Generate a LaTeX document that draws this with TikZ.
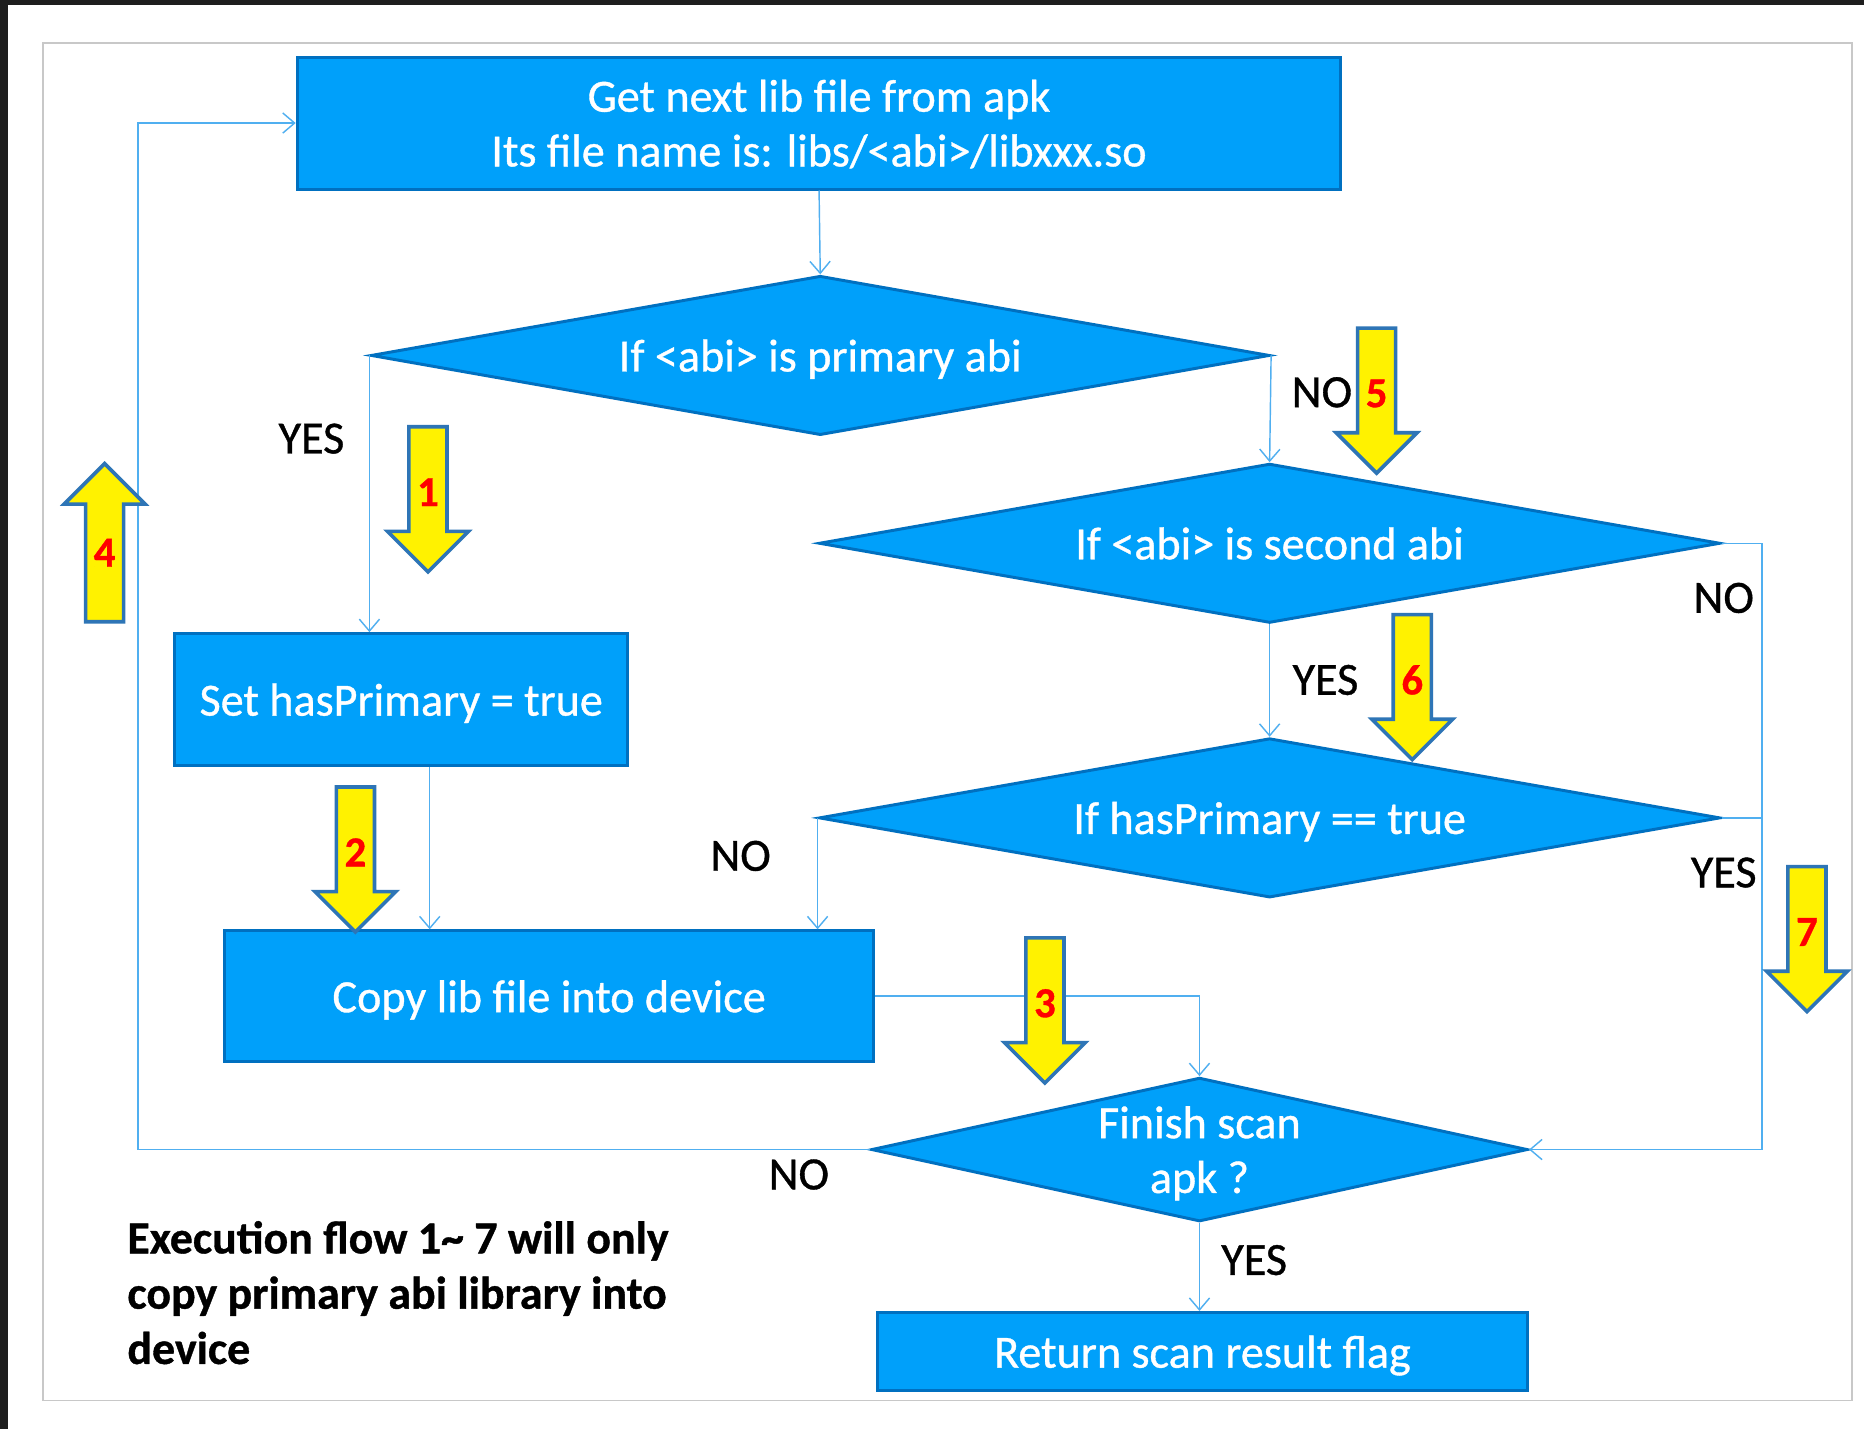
\documentclass[tikz,border=0pt]{standalone}
\usepackage{fontspec}
\setmainfont{Carlito}[FakeBold=0.8]
\usetikzlibrary{arrows.meta,shapes.geometric}

\definecolor{boxblue}{RGB}{0,160,250}
\definecolor{boxedge}{RGB}{0,112,192}
\definecolor{linkblue}{RGB}{80,175,240}
\definecolor{arrowedge}{RGB}{46,117,182}
\definecolor{darkedge}{RGB}{30,30,30}
\definecolor{framegray}{RGB}{200,200,200}

\begin{document}
\begin{tikzpicture}[x=1pt,y=-1pt,
  every node/.style={font=\fontsize{38.8}{46}\selectfont},
  procbox/.style={rectangle,fill=boxblue,draw=boxedge,line width=2.5pt,text=white,align=center,inner sep=0pt,text depth=0pt},
  testbox/.style={diamond,fill=boxblue,draw=boxedge,line width=2.5pt,text=white,align=center,inner sep=0pt,text depth=0pt},
  link/.style={draw=linkblue,line width=1.2pt},
  linkto/.style={link,-{Straight Barb[length=10pt,width=17pt]}},
  answer/.style={text=black,inner sep=0pt},
  bigarrow/.style={fill=yellow,draw=arrowedge,line width=3pt},
  stepnum/.style={text=red,font=\fontsize{36}{40}\selectfont\bfseries,inner sep=0pt}]
\useasboundingbox (0,0) rectangle (1568,1202);
\fill[white] (0,0) rectangle (1568,1202);
\fill[darkedge] (0,0) rectangle (1568,4);
\fill[darkedge] (0,0) rectangle (7,1202);
\draw[framegray,line width=1.5pt] (36,36) rectangle (1558,1178);
% boxes and tests
\node[procbox,minimum width=878pt,minimum height=111pt] (getlib) at (689,103.5) {Get next lib file from apk\\Its file name is: libs/<abi>/libxxx.so};
\node[testbox,aspect=5.6,minimum width=756pt,minimum height=134pt] (primary) at (690,299) {If <abi> is primary abi};
\node[testbox,aspect=5.6,minimum width=758pt,minimum height=134pt] (second) at (1068,457) {If <abi> is second abi};
\node[testbox,aspect=5.6,minimum width=758pt,minimum height=134pt] (hasprim) at (1068,688) {If hasPrimary == true};
\node[procbox,minimum width=381pt,minimum height=111pt] (setprim) at (337.5,588.5) {Set hasPrimary = true};
\node[procbox,minimum width=546pt,minimum height=110pt] (copylib) at (462,838) {Copy lib file into device};
\node[testbox,aspect=4.5,minimum width=552pt,minimum height=121pt] (finish) at (1009,967) {Finish scan\\apk ?};
\node[procbox,minimum width=547pt,minimum height=66pt] (result) at (1011.5,1137) {Return scan result flag};
% answers
\node[answer] (yesprim) at (262,369) {YES};
\node[answer] (noprim) at (1112,330) {NO};
\node[answer] (nosec) at (1450,503) {NO};
\node[answer] (yessec) at (1115,572) {YES};
\node[answer] (nohas) at (623,720) {NO};
\node[answer] (yeshas) at (1450,734) {YES};
\node[answer] (nofin) at (672,988) {NO};
\node[answer] (yesfin) at (1055,1060) {YES};
% connectors
\coordinate (rside) at (1482,457);
\coordinate (lside) at (116,103.5);
\draw[linkto] (getlib.south) -- (primary.north);
\draw[linkto] (primary.west) -- (primary.west |- setprim.north);
\draw[linkto] (primary.east) -- (second.north);
\draw[linkto] ([xshift=24pt]setprim.south) -- ([xshift=24pt]setprim.south |- copylib.north);
\draw[linkto] (second.south) -- (hasprim.north);
\draw[linkto] (second.east) -- (rside) |- (finish.east);
\draw[link] (hasprim.east) -- (hasprim.east -| rside);
\draw[linkto] (hasprim.west) -- (hasprim.west |- copylib.north);
\draw[linkto] (copylib.east) -| (finish.north);
\draw[linkto] (finish.west) -| (lside) -- (getlib.west);
\draw[linkto] (finish.south) -- (finish.south |- result.north);
% flow arrows
\foreach \x/\y/\n in {360/359/1,299/662/2,879/789/3,1158/276/5,1188/517/6,1520/729/7}{
  \draw[bigarrow] (\x-16,\y) -- (\x+16,\y) -- (\x+16,\y+88) -- (\x+34,\y+88) -- (\x,\y+122) -- (\x-34,\y+88) -- (\x-16,\y+88) -- cycle;
  \node[stepnum] (step\n) at (\x,\y+55) {\n};
}
\draw[bigarrow] (72,523) -- (104,523) -- (104,424) -- (122,424) -- (88,390) -- (54,424) -- (72,424) -- cycle;
\node[stepnum] (step4) at (88,465) {4};
\node[anchor=north west,align=left,inner sep=0pt,font=\fontsize{38.6}{46.5}\selectfont\bfseries] (note) at (107,1027) {Execution flow 1\textasciitilde{} 7 will only\\copy primary abi library into\\device};
\end{tikzpicture}
\end{document}
